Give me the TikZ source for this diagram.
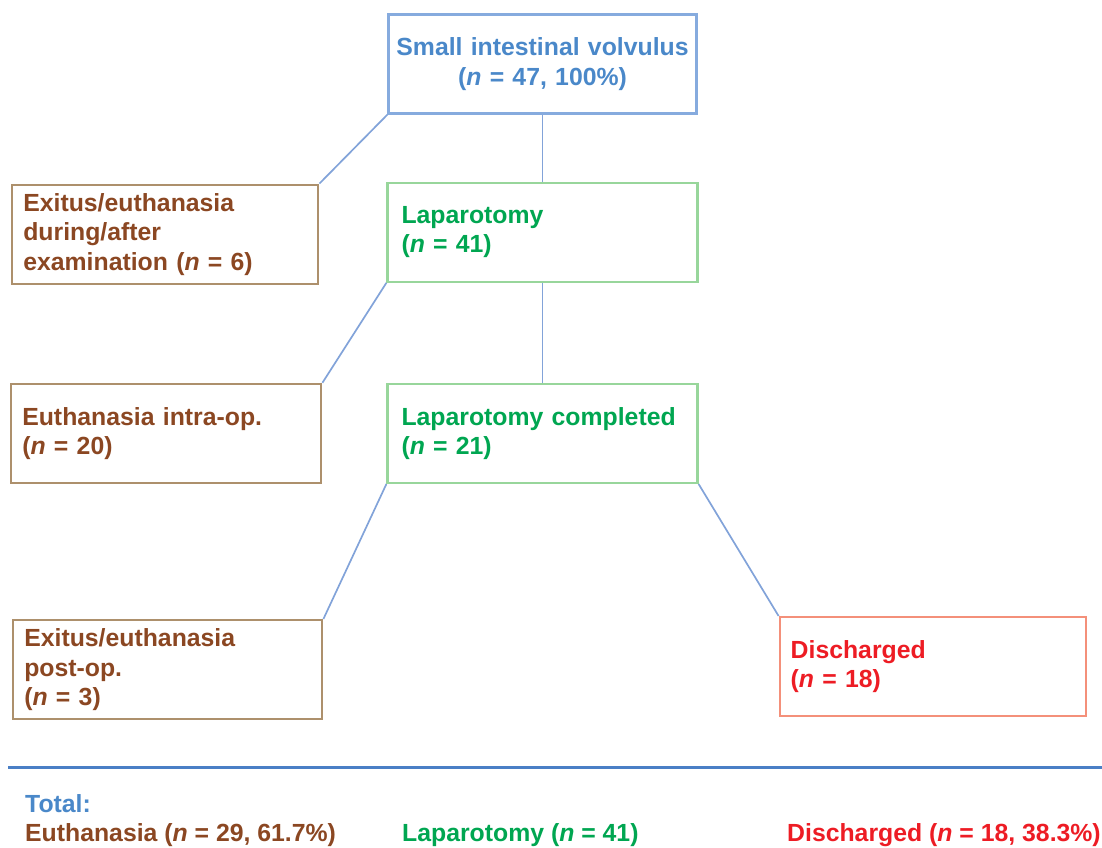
\documentclass[tikz,border=0pt]{standalone}
\usepackage{xcolor}
\usepackage{fontspec}
\setmainfont{Liberation Sans}
\usetikzlibrary{
    positioning
}
\definecolor{volvblue}{HTML}{4A88C9}
\definecolor{volvblueline}{HTML}{86ABDE}
\definecolor{linkblue}{HTML}{82A3D9}
\definecolor{rulelblue}{HTML}{4A7FC6}
\definecolor{deadbrown}{HTML}{8B4722}
\definecolor{deadbrownline}{HTML}{AD906C}
\definecolor{opgreen}{HTML}{00A651}
\definecolor{opgreenline}{HTML}{98D69B}
\definecolor{homered}{HTML}{ED1C24}
\definecolor{homeredline}{HTML}{F4907A}
\tikzset{%
    flow box/.style={%
        rectangle,
        draw,
        line width=2.2pt,
        inner xsep=11pt,
        inner ysep=0pt,
        text width=286pt,
        minimum height=99pt,
        align=left,
        font=\fontsize{24.8}{29.5}\selectfont\bfseries
    },
    start box/.style={%
        flow box,
        draw=volvblueline,
        text=volvblue,
        inner xsep=5pt,
        text width=298pt,
        align=center
    },
    surgery box/.style={%
        flow box,
        draw=opgreenline,
        text=opgreen,
        inner xsep=14pt,
        text width=282pt
    },
    death box/.style={%
        flow box,
        draw=deadbrownline,
        text=deadbrown
    },
    home box/.style={%
        flow box,
        draw=homeredline,
        text=homered,
        text width=284pt
    },
    link/.style={%
        draw=linkblue,
        line width=1.7pt
    },
    total/.style={%
        anchor=base west,
        inner sep=0pt,
        font=\fontsize{24.8}{29.5}\selectfont\bfseries
    },
}

\begin{document}
\begin{tikzpicture}[x=1pt, y=-1pt]
    \useasboundingbox (0,0) rectangle (1102,847);

    \node[start box] (volvulus) at (542.5,64) {Small intestinal volvulus\\(\textit{n} = 47, 100\%)};
    \node[surgery box, below=67pt of volvulus] (laparotomy) {Laparotomy\\(\textit{n} = 41)};
    \node[surgery box, below=100pt of laparotomy] (completed) {Laparotomy completed\\(\textit{n} = 21)};

    \node[death box, text width=284pt, below left=69pt and 68pt of volvulus] (exam) {Exitus/euthanasia\\during/after\\examination (\textit{n} = 6)};
    \node[death box, text width=288pt, below left=100pt and 64pt of laparotomy] (intraop) {Euthanasia intra-op.\\(\textit{n} = 20)};
    \node[death box, text width=287pt, below left=135pt and 63pt of completed] (postop) {Exitus/euthanasia\\post-op.\\(\textit{n} = 3)};
    \node[home box, below right=132pt and 80pt of completed] (discharged) {Discharged\\(\textit{n} = 18)};

    \draw[link] (volvulus.south) -- (volvulus.south |- laparotomy.north);
    \draw[link] (volvulus.south west) -- (exam.north east);
    \draw[link] (laparotomy.south) -- (laparotomy.south |- completed.north);
    \draw[link] (laparotomy.south west) -- (intraop.north east);
    \draw[link] (completed.south west) -- (postop.north east);
    \draw[link] (completed.south east) -- (discharged.north west);

    % summary below the rule
    \coordinate (rule start) at (8,767);
    \coordinate (rule end) at (1102,767);
    \draw[rulelblue, line width=3pt] (rule start) -- (rule end);

    \node[total, text=volvblue] (total) at (25,812) {Total:};
    \node[total, text=deadbrown] (sum dead) at (25,841) {Euthanasia (\textit{n} = 29, 61.7\%)};
    \node[total, text=opgreen] (sum surgery) at (402,841) {Laparotomy (\textit{n} = 41)};
    \node[total, text=homered] (sum home) at (787,841) {Discharged (\textit{n} = 18, 38.3\%)};
\end{tikzpicture}
\end{document}
